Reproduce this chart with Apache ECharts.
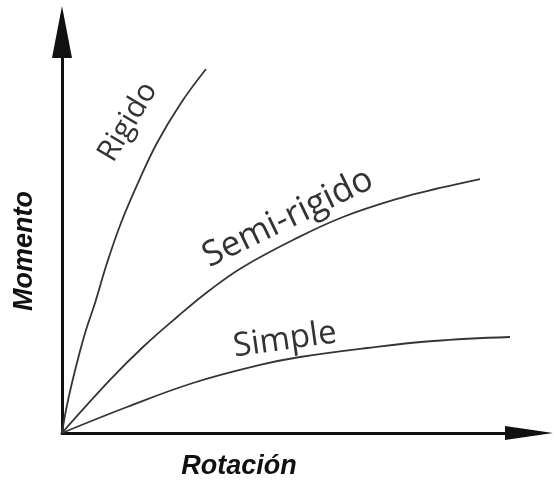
<!DOCTYPE html>
<html>
<head>
<meta charset="utf-8">
<script src="https://cdn.jsdelivr.net/npm/echarts@6/dist/echarts.min.js"></script>
<style>
html,body{margin:0;padding:0;background:#fff;}
#chart{width:554px;height:484px;}
</style>
</head>
<body>
<div id="chart"></div>
<script>
// Rotation (x) and Moment (y) values, arbitrary units 0..100
const rigidoX = [0, 0.86, 2.03, 3.64, 5.14, 7.07, 9.64, 12.63, 16.27, 20.34, 25.48, 30.84];
const rigidoY = [0, 5.74, 11.97, 19.45, 25.69, 32.42, 42.39, 52.37, 62.34, 72.32, 82.29, 90.77];
const semiX = [0, 10.28, 17.34, 24.63, 31.69, 38.76, 49.46, 60.17, 72.38, 80.94, 89.51];
const semiY = [0, 13.22, 21.45, 28.93, 35.66, 41.40, 48.13, 53.87, 58.60, 61.10, 63.34];
const simpleX = [0, 13.92, 28.05, 42.40, 50.96, 65.31, 79.44, 95.93];
const simpleY = [0, 6.48, 12.47, 16.96, 18.95, 21.20, 22.94, 23.94];
const seriesNames = ['Rigido', 'Semi-rigido', 'Simple'];
const xTitle = 'Rotación';
const yTitle = 'Momento';

const zip = (xs, ys) => xs.map((x, i) => [x, ys[i]]);
const curveColor = '#353535';
const labelFace = '"Open Sans", sans-serif';
const titleFont = 'italic bold 27px "Liberation Sans", Arial, sans-serif';

const chart = echarts.init(document.getElementById('chart'));
const mkLine = (name, data) => ({
  name, type: 'line', data, showSymbol: false, smooth: 0.4,
  lineStyle: { color: curveColor, width: 1.8 }, silent: true
});
chart.setOption({
  animation: false,
  grid: { left: 62, right: 25, top: 32, bottom: 51 },
  xAxis: {
    type: 'value', min: 0, max: 100,
    axisLine: { show: true, lineStyle: { color: '#111', width: 3 }, symbol: ['none', 'triangle'], symbolSize: [14, 48] },
    axisTick: { show: false }, axisLabel: { show: false }, splitLine: { show: false }
  },
  yAxis: {
    type: 'value', min: 0, max: 100,
    axisLine: { show: true, lineStyle: { color: '#111', width: 3 }, symbol: ['none', 'triangle'], symbolSize: [20, 52] },
    axisTick: { show: false }, axisLabel: { show: false }, splitLine: { show: false }
  },
  series: [
    mkLine(seriesNames[0], zip(rigidoX, rigidoY)),
    mkLine(seriesNames[1], zip(semiX, semiY)),
    mkLine(seriesNames[2], zip(simpleX, simpleY))
  ],
  graphic: [
    { type: 'text', x: 128, y: 122, rotation: 59 * Math.PI / 180,
      style: { text: seriesNames[0], font: '30px ' + labelFace, fill: '#333', align: 'center', verticalAlign: 'middle' } },
    { type: 'text', x: 288, y: 218, rotation: 26 * Math.PI / 180,
      style: { text: seriesNames[1], font: '35px ' + labelFace, fill: '#333', align: 'center', verticalAlign: 'middle' } },
    { type: 'text', x: 285, y: 340, rotation: 8 * Math.PI / 180,
      style: { text: seriesNames[2], font: '33px ' + labelFace, fill: '#333', align: 'center', verticalAlign: 'middle' } },
    { type: 'text', x: 239, y: 467,
      style: { text: xTitle, font: titleFont, fill: '#111', align: 'center', verticalAlign: 'middle' } },
    { type: 'text', x: 25, y: 251, rotation: Math.PI / 2,
      style: { text: yTitle, font: titleFont, fill: '#111', align: 'center', verticalAlign: 'middle' } }
  ]
});
</script>
</body>
</html>
